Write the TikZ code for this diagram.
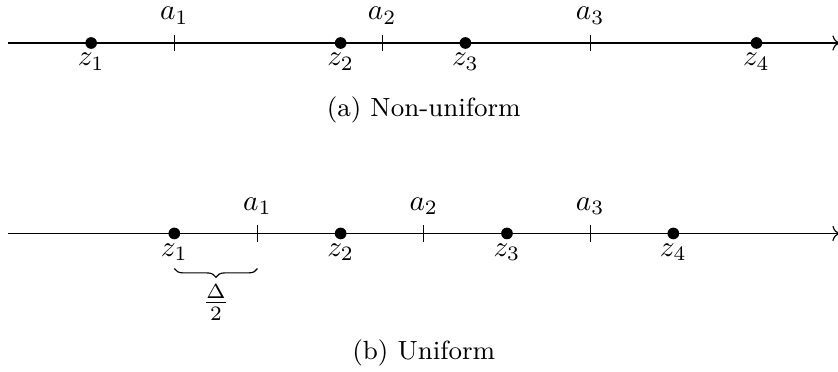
\documentclass[tikz,border=0pt]{standalone}
\usepackage{amsmath}
\usetikzlibrary{arrows.meta,positioning,calc,decorations.pathreplacing}

\begin{document}
\begin{tikzpicture}[
  axis/.style={->, line width=0.4pt},
  qpoint/.style={circle, fill=black, inner sep=0pt, minimum size=4pt},
  bnd/.style={line width=0.4pt},
  ptlabel/.style={below},
  bndlabel/.style={above},
  subcap/.style={anchor=base, font=\small},
  halfgap/.style={decorate, decoration={brace, mirror, amplitude=3pt}}
]
\useasboundingbox (-0.096,-3.956) rectangle (9.98,0.517);

% ------------------------------------------------------------------
% (a) non-uniform quantizer
% ------------------------------------------------------------------
\coordinate (nstart) at (0,0);
\coordinate (nend) at (10,0);
\draw[axis] (nstart) -- (nend);
\foreach \x/\i in {2/1, 4.5/2, 7/3} {
  \coordinate (na\i) at (\x,0);
  \draw[bnd] ([yshift=-0.1cm]na\i) -- ([yshift=0.1cm]na\i) node[bndlabel] (nla\i) {$a_\i$};
}
\foreach \x/\i in {1/1, 4/2, 5.5/3, 9/4} {
  \node[qpoint] (nz\i) at (\x,0) {};
  \node[ptlabel] (nlz\i) at (nz\i.center) {$z_\i$};
}
\node[subcap] (capa) at (5,-0.878) {(a) Non-uniform};

% ------------------------------------------------------------------
% (b) uniform quantizer
% ------------------------------------------------------------------
\coordinate (ustart) at (0,-2.29);
\coordinate (uend) at (10,-2.29);
\draw[axis] (ustart) -- (uend);
\foreach \x/\i in {3/1, 5/2, 7/3} {
  \coordinate (ua\i) at (\x,-2.29);
  \draw[bnd] ([yshift=-0.1cm]ua\i) -- ([yshift=0.1cm]ua\i) node[bndlabel] (ula\i) {$a_\i$};
}
\foreach \x/\i in {2/1, 4/2, 6/3, 8/4} {
  \node[qpoint] (uz\i) at (\x,-2.29) {};
  \node[ptlabel] (ulz\i) at (uz\i.center) {$z_\i$};
}
% half step between z_1 and a_1
\draw[halfgap] ([yshift=-12pt]uz1.center) -- ([yshift=-12pt]ua1)
  node[midway, below=2pt] (delta) {$\frac{\Delta}{2}$};
\node[subcap] (capb) at (5,-3.80) {(b) Uniform};

\end{tikzpicture}
\end{document}
